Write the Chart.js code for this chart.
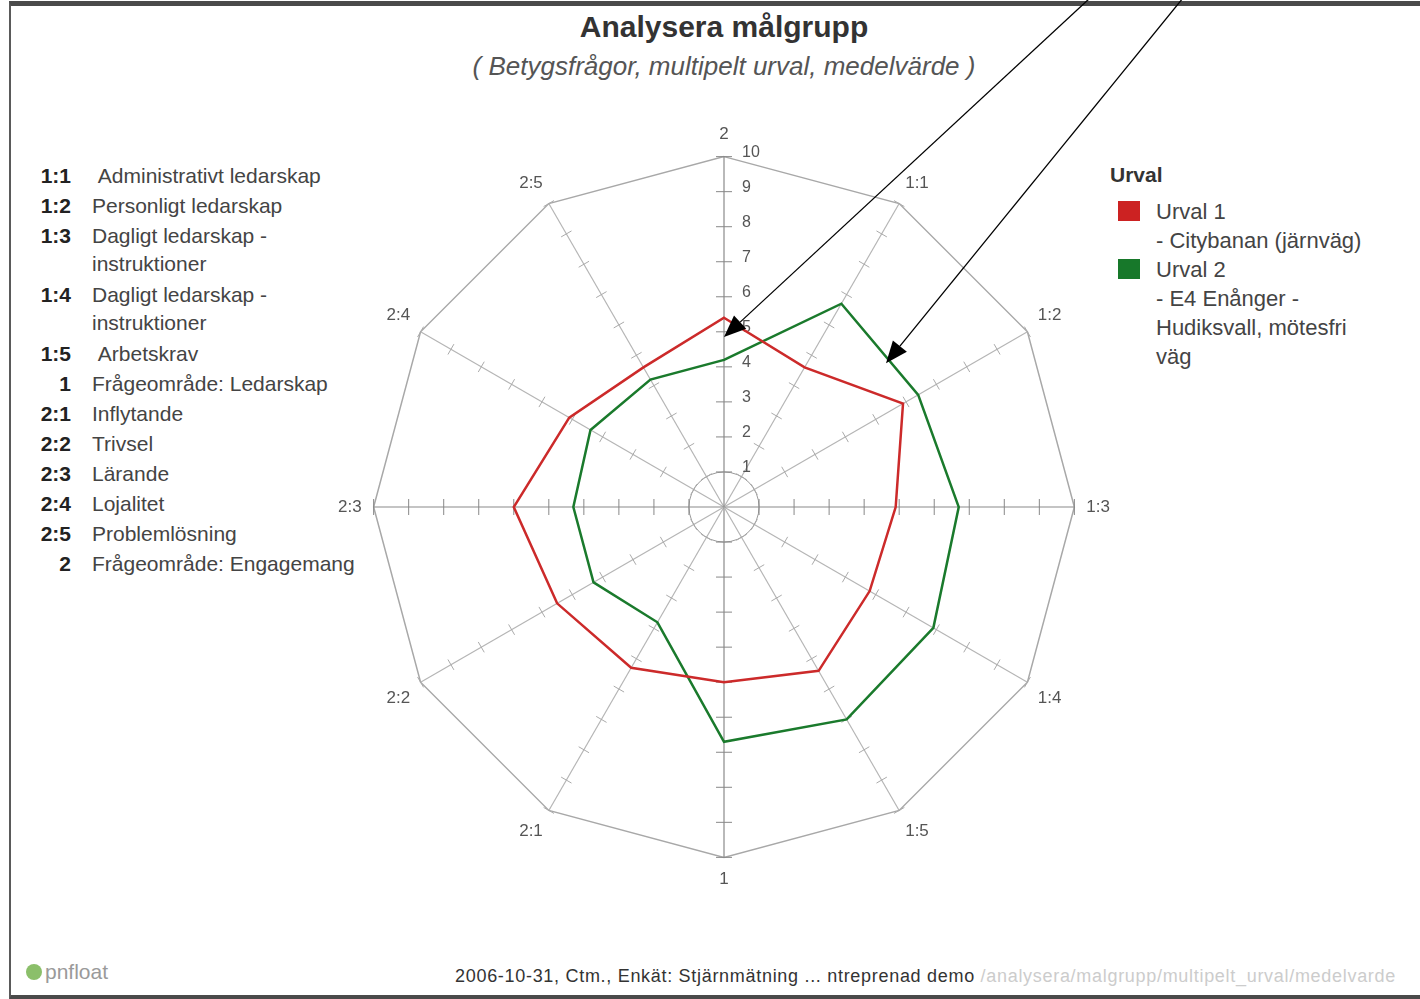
<!DOCTYPE html>
<html>
<head>
<meta charset="utf-8">
<script src="https://cdn.jsdelivr.net/npm/chart.js@4/dist/chart.umd.min.js"></script>
<style>
  body { margin: 0; width: 1420px; height: 999px; overflow: hidden; background: #fff;
         font-family: "Liberation Sans", Arial, sans-serif; color: #333; position: relative; }
  .frame { position: absolute; left: 9px; top: 1px; width: 1420px; height: 989px;
           border-top: 5px solid #4a4a4a; border-left: 2px solid #5a5a5a; border-bottom: 6px solid #4a4a4a; }
  .title { position: absolute; left: 424px; width: 600px; top: 10px; text-align: center;
           font-weight: bold; font-size: 30px; color: #333; }
  .subtitle { position: absolute; left: 324px; width: 800px; top: 51px; text-align: center;
              font-style: italic; font-size: 26px; color: #555; }
  .list { position: absolute; left: 30px; top: 164px; font-size: 21px; color: #444; }
  .list .row { position: relative; height: 30px; }
  .list .row.two { height: 59px; }
  .list .code { position: absolute; left: 0; width: 41px; text-align: right; font-weight: bold; color: #222; }
  .list .txt { position: absolute; left: 62px; width: 320px; line-height: 28px; top: -2px; white-space: nowrap; }
  .legend { position: absolute; left: 1110px; top: 163px; font-size: 22px; color: #444; }
  .legend .head { font-weight: bold; color: #333; margin-bottom: 10px; font-size: 21px; }
  .legend .item { position: relative; padding-left: 46px; line-height: 29px; }
  .legend .sw { position: absolute; left: 8px; top: 4px; width: 22px; height: 20px; }
  .footer { position: absolute; left: 455px; top: 966px; font-size: 18px; letter-spacing: 0.7px; color: #333; white-space: nowrap; }
  .footer span { color: #ccc; }
  .logo { position: absolute; left: 26px; top: 960px; font-size: 21px; color: #9a9a9a; }
  .logo i { display: inline-block; width: 16px; height: 16px; border-radius: 8px; background: #8bbf6a; vertical-align: -1px; margin-right: 3px; }
  .wrap { position: absolute; left: 0; top: 0; width: 1420px; height: 999px; }
</style>
</head>
<body>
<div class="frame"></div>
<div class="title">Analysera målgrupp</div>
<div class="subtitle">( Betygsfrågor, multipelt urval, medelvärde )</div>

<div class="list">
  <div class="row"><span class="code">1:1</span><span class="txt">&nbsp;Administrativt ledarskap</span></div>
  <div class="row"><span class="code">1:2</span><span class="txt">Personligt ledarskap</span></div>
  <div class="row two"><span class="code">1:3</span><span class="txt">Dagligt ledarskap -<br>instruktioner</span></div>
  <div class="row two"><span class="code">1:4</span><span class="txt">Dagligt ledarskap -<br>instruktioner</span></div>
  <div class="row"><span class="code">1:5</span><span class="txt">&nbsp;Arbetskrav</span></div>
  <div class="row"><span class="code">1</span><span class="txt">Frågeområde: Ledarskap</span></div>
  <div class="row"><span class="code">2:1</span><span class="txt">Inflytande</span></div>
  <div class="row"><span class="code">2:2</span><span class="txt">Trivsel</span></div>
  <div class="row"><span class="code">2:3</span><span class="txt">Lärande</span></div>
  <div class="row"><span class="code">2:4</span><span class="txt">Lojalitet</span></div>
  <div class="row"><span class="code">2:5</span><span class="txt">Problemlösning</span></div>
  <div class="row"><span class="code">2</span><span class="txt">Frågeområde: Engagemang</span></div>
</div>

<div class="legend">
  <div class="head">Urval</div>
  <div class="item"><span class="sw" style="background:#cc2222"></span>Urval 1<br>- Citybanan (järnväg)</div>
  <div class="item"><span class="sw" style="background:#17782a"></span>Urval 2<br>- E4 Enånger -<br>Hudiksvall, mötesfri<br>väg</div>
</div>

<div class="logo"><i></i>pnfloat</div>
<div class="footer">2006-10-31, Ctm., Enkät: Stjärnmätning ... ntreprenad demo <span>/analysera/malgrupp/multipelt_urval/medelvarde</span></div>

<div class="wrap"><canvas id="radar"></canvas></div>

<script>
// Axlar medurs från toppen
const labels = ['2', '1:1', '1:2', '1:3', '1:4', '1:5', '1', '2:1', '2:2', '2:3', '2:4', '2:5'];
// Urval 1 - Citybanan (järnväg)
const urval1 = [5.4, 4.6, 5.9, 4.9, 4.8, 5.4, 5.0, 5.3, 5.5, 6.0, 5.1, 4.6];
// Urval 2 - E4 Enånger - Hudiksvall, mötesfri väg
const urval2 = [4.2, 6.7, 6.4, 6.7, 6.9, 7.0, 6.7, 3.8, 4.3, 4.3, 4.4, 4.2];
const tickValues = [1, 2, 3, 4, 5, 6, 7, 8, 9, 10];

const FONT = '"Liberation Sans", Arial, sans-serif';

// Skalstreck, siffror och den lilla cirkeln
const extras = {
  id: 'extras',
  beforeDatasetsDraw(chart) {
    const s = chart.scales.r;
    const ctx = chart.ctx;
    ctx.save();
    ctx.strokeStyle = '#999';
    ctx.lineWidth = 1;
    ctx.beginPath();
    ctx.arc(s.xCenter, s.yCenter, s.getDistanceFromCenterForValue(1), 0, Math.PI * 2);
    ctx.stroke();

    for (let i = 0; i < labels.length; i++) {
      const a = s.getIndexAngle(i) - Math.PI / 2;
      const nx = -Math.sin(a), ny = Math.cos(a);
      const len = i % 3 === 0 ? 8 : 6;
      ctx.strokeStyle = i % 3 === 0 ? '#888' : '#aaa';
      tickValues.forEach(v => {
        const p = s.getPointPositionForValue(i, v);
        ctx.beginPath();
        ctx.moveTo(p.x - nx * len, p.y - ny * len);
        ctx.lineTo(p.x + nx * len, p.y + ny * len);
        ctx.stroke();
      });
    }

    ctx.fillStyle = '#555';
    ctx.font = '16px ' + FONT;
    ctx.textAlign = 'left';
    ctx.textBaseline = 'middle';
    tickValues.forEach(v => {
      const p = s.getPointPositionForValue(0, v);
      ctx.fillText(String(v), p.x + 18, p.y - 4);
    });
    ctx.restore();
  },
  afterDraw(chart) {
    const s = chart.scales.r;
    const ctx = chart.ctx;
    // pilarna pekar på linjerna
    const tip1 = s.getPointPositionForValue(0, 4.85);
    const g1 = s.getPointPositionForValue(1, urval2[1]);
    const g2 = s.getPointPositionForValue(2, urval2[2]);
    const tip2 = { x: g1.x + (g2.x - g1.x) * 0.62 - 3, y: g1.y + (g2.y - g1.y) * 0.62 + 3 };
    const arrows = [
      { from: { x: 1090, y: -2 }, to: tip1 },
      { from: { x: 1183, y: -2 }, to: tip2 }
    ];
    ctx.save();
    ctx.strokeStyle = '#000';
    ctx.fillStyle = '#000';
    ctx.lineWidth = 1.3;
    arrows.forEach(ar => {
      const dx = ar.to.x - ar.from.x, dy = ar.to.y - ar.from.y;
      const d = Math.hypot(dx, dy);
      const ux = dx / d, uy = dy / d;
      const hl = 22, hw = 9;
      const bx = ar.to.x - ux * hl, by = ar.to.y - uy * hl;
      ctx.beginPath();
      ctx.moveTo(ar.from.x, ar.from.y);
      ctx.lineTo(bx, by);
      ctx.stroke();
      ctx.beginPath();
      ctx.moveTo(ar.to.x, ar.to.y);
      ctx.lineTo(bx - uy * hw, by + ux * hw);
      ctx.lineTo(bx + uy * hw, by - ux * hw);
      ctx.closePath();
      ctx.fill();
    });
    ctx.restore();
  }
};

new Chart(document.getElementById('radar'), {
  type: 'radar',
  data: {
    labels: labels,
    datasets: [
      { label: 'Urval 1', data: urval1, borderColor: '#cc2a2a', borderWidth: 2.5, pointRadius: 0, fill: false },
      { label: 'Urval 2', data: urval2, borderColor: '#1a7a2c', borderWidth: 2.5, pointRadius: 0, fill: false }
    ]
  },
  options: {
    responsive: true,
    maintainAspectRatio: false,
    animation: false,
    layout: { padding: { left: 338, right: 310, top: 121, bottom: 106 } },
    plugins: { legend: { display: false }, tooltip: { enabled: false } },
    scales: {
      r: {
        min: 0,
        max: 10,
        ticks: { stepSize: 1, display: false },
        grid: {
          color: ctx => ctx.tick && ctx.tick.value === 10 ? '#a8a8a8' : 'rgba(0,0,0,0)',
          lineWidth: 1.5
        },
        angleLines: {
          color: ctx => ctx.index % 3 === 0 ? '#8a8a8a' : '#b5b5b5',
          lineWidth: 1.2
        },
        pointLabels: {
          color: '#555',
          padding: 12,
          font: { size: 17, family: FONT }
        }
      }
    }
  },
  plugins: [extras]
});
</script>
</body>
</html>
